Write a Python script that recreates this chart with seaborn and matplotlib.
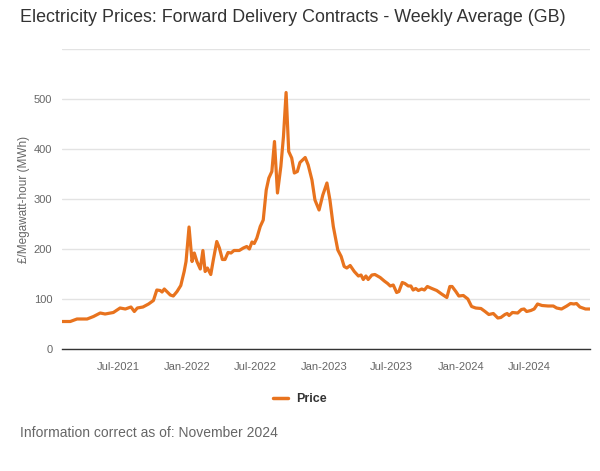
import pandas as pd
import matplotlib.pyplot as plt
import matplotlib.dates as mdates
import seaborn as sns

# Weekly average forward delivery price (£/MWh)
dates = [
    '2021-02-01', '2021-02-23', '2021-03-13', '2021-04-09', '2021-04-26', '2021-05-14',
    '2021-05-27', '2021-06-18', '2021-07-06', '2021-07-20', '2021-08-04', '2021-08-13',
    '2021-08-21', '2021-09-05', '2021-09-20', '2021-10-03', '2021-10-12', '2021-10-21',
    '2021-10-26', '2021-11-01', '2021-11-17', '2021-11-25', '2021-12-05', '2021-12-15',
    '2021-12-24', '2021-12-29', '2022-01-06', '2022-01-14', '2022-01-20', '2022-01-27',
    '2022-02-05', '2022-02-12', '2022-02-18', '2022-02-24', '2022-03-05', '2022-03-12',
    '2022-03-21', '2022-03-28', '2022-04-05', '2022-04-12', '2022-04-20', '2022-04-28',
    '2022-05-06', '2022-05-20', '2022-05-31', '2022-06-09', '2022-06-16', '2022-06-23',
    '2022-06-29', '2022-07-06', '2022-07-15', '2022-07-23', '2022-07-31', '2022-08-07',
    '2022-08-15', '2022-08-22', '2022-08-30', '2022-09-08', '2022-09-15', '2022-09-22',
    '2022-09-29', '2022-10-07', '2022-10-14', '2022-10-22', '2022-10-29', '2022-11-12',
    '2022-11-20', '2022-11-30', '2022-12-08', '2022-12-19', '2022-12-29', '2023-01-09',
    '2023-01-17', '2023-01-26', '2023-02-07', '2023-02-16', '2023-02-24', '2023-03-03',
    '2023-03-12', '2023-03-23', '2023-04-03', '2023-04-10', '2023-04-16', '2023-04-23',
    '2023-04-29', '2023-05-09', '2023-05-17', '2023-05-31', '2023-06-11', '2023-06-20',
    '2023-06-27', '2023-07-05', '2023-07-14', '2023-07-20', '2023-07-29', '2023-08-05',
    '2023-08-14', '2023-08-21', '2023-08-27', '2023-09-03', '2023-09-10', '2023-09-19',
    '2023-09-26', '2023-10-04', '2023-10-16', '2023-10-29', '2023-11-11', '2023-11-25',
    '2023-12-03', '2023-12-09', '2023-12-19', '2023-12-27', '2024-01-08', '2024-01-20',
    '2024-01-30', '2024-02-10', '2024-02-24', '2024-03-06', '2024-03-16', '2024-03-28',
    '2024-04-09', '2024-04-17', '2024-04-28', '2024-05-04', '2024-05-09', '2024-05-18',
    '2024-06-01', '2024-06-11', '2024-06-18', '2024-06-25', '2024-07-06', '2024-07-15',
    '2024-07-24', '2024-08-05', '2024-08-21', '2024-09-04', '2024-09-13', '2024-09-26',
    '2024-10-10', '2024-10-20', '2024-10-29', '2024-11-05', '2024-11-14', '2024-11-29',
    '2024-12-11',
]
prices = [
    55, 55, 60, 60, 65, 72,
    70, 73, 82, 80, 84, 75,
    82, 84, 90, 97, 118, 117,
    114, 120, 108, 106, 115, 127,
    155, 175, 244, 175, 192, 175,
    160, 197, 155, 162, 149, 179,
    215, 202, 179, 179, 193, 192,
    197, 197, 202, 205, 200, 214,
    211, 222, 245, 258, 318, 342,
    355, 415, 312, 365, 425, 513,
    395, 382, 352, 355, 373, 383,
    368, 338, 298, 278, 308, 332,
    298, 245, 198, 185, 165, 162,
    167, 155, 146, 148, 139, 146,
    139, 148, 149, 143, 136, 131,
    126, 128, 113, 115, 133, 131,
    126, 126, 118, 121, 117, 120,
    118, 125, 121, 117, 110, 103,
    125, 125, 115, 106, 107, 100,
    85, 82, 81, 75, 69, 71,
    62, 63, 69, 71, 67, 73,
    72, 79, 80, 75, 77, 80,
    90, 87, 86, 86, 82, 80,
    86, 91, 90, 91, 84, 80,
    80,
]
y_ticks = [0, 100, 200, 300, 400, 500, 600]
y_tick_labels = ['0', '100', '200', '300', '400', '500', '']

df = pd.DataFrame({'Date': pd.to_datetime(dates), 'Price': prices})

sns.set_style('white')
plt.rcParams['font.family'] = ['Liberation Sans', 'DejaVu Sans']

orange = '#E8731E'
grey = '#666666'

fig = plt.figure(figsize=(6, 4.71), dpi=100)
ax = fig.add_axes([62 / 600, 122 / 471, 528 / 600, 300 / 471])

sns.lineplot(data=df, x='Date', y='Price', color=orange, linewidth=2.3, ax=ax, label='Price')

# y axis
ax.set_ylim(0, 600)
ax.set_yticks(y_ticks)
ax.set_yticklabels(y_tick_labels)
ax.grid(axis='y', color='#e3e3e3', linewidth=1)
ax.set_axisbelow(True)
ax.tick_params(axis='y', length=0, pad=7, labelsize=8, labelcolor=grey)
ax.set_ylabel('£/Megawatt-hour (MWh)', fontsize=8.5, color=grey, labelpad=3)

# x axis
ax.set_xlim(df['Date'].iloc[0], df['Date'].iloc[-1])
ax.xaxis.set_major_locator(mdates.MonthLocator(bymonth=[1, 7]))
ax.xaxis.set_major_formatter(mdates.DateFormatter('%b-%Y'))
ax.tick_params(axis='x', length=5, width=1, color='#333333', pad=4, labelsize=8, labelcolor=grey)
ax.set_xlabel('')

for side in ['top', 'right', 'left']:
    ax.spines[side].set_visible(False)
ax.spines['bottom'].set_color('#333333')
ax.spines['bottom'].set_linewidth(1)

# legend below the plot
leg = ax.legend(loc='center', bbox_to_anchor=(0.5, 1 - 399 / 471), bbox_transform=fig.transFigure,
                frameon=False, handlelength=1.2, handletextpad=0.6,
                prop={'weight': 'bold', 'size': 9})
for t in leg.get_texts():
    t.set_color('#333333')
for h in leg.get_lines():
    h.set_linewidth(2.5)

fig.text(20 / 600, 1 - 18 / 471, 'Electricity Prices: Forward Delivery Contracts - Weekly Average (GB)',
         fontsize=12.9, color='#333333', ha='left', va='center')
fig.text(20 / 600, 1 - 433 / 471, 'Information correct as of: November 2024',
         fontsize=10, color=grey, ha='left', va='center')

fig.savefig('out.png', dpi=100)
